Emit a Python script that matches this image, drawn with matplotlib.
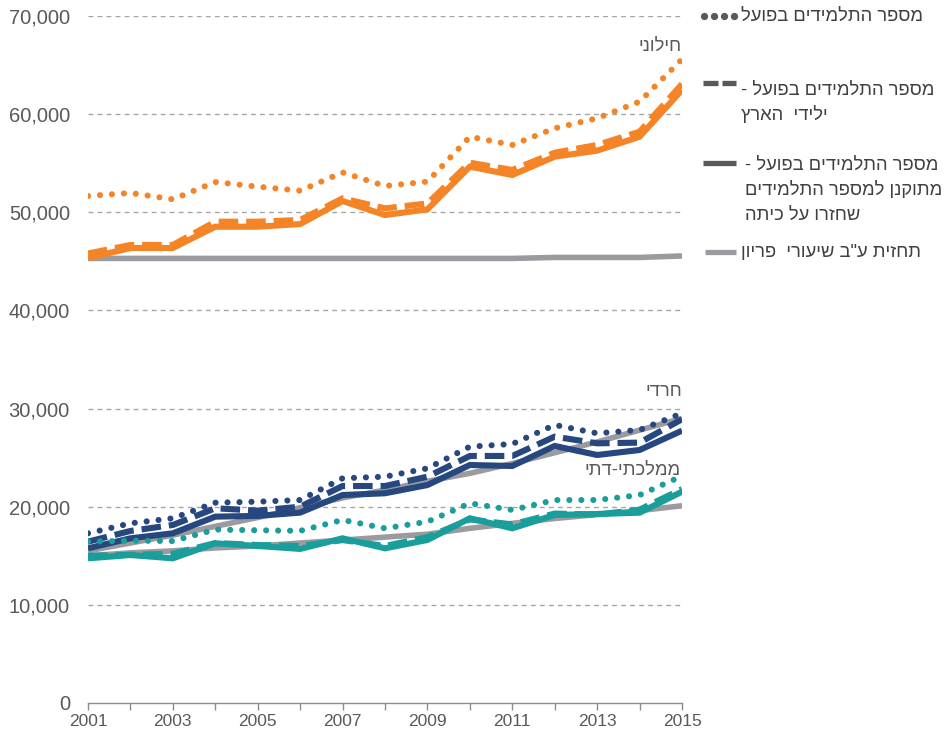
import matplotlib
matplotlib.use("Agg")
import matplotlib.pyplot as plt
from matplotlib.lines import Line2D

plt.rcParams['font.family'] = ['Liberation Sans', 'DejaVu Sans']

# ---------------- data ----------------
years = list(range(2001, 2016))
year_ticks = [2001, 2003, 2005, 2007, 2009, 2011, 2013, 2015]
y_ticks = [0, 10000, 20000, 30000, 40000, 50000, 60000, 70000]

# secular (חילוני)
sec_actual = [51660, 51970, 51320, 53080, 52610, 52200, 54060, 52680, 53120, 57700, 56860, 58560, 59580, 61270, 65590]
sec_native = [45800, 46670, 46670, 49040, 49040, 49215, 51420, 50400, 50900, 55050, 54310, 56070, 56860, 58210, 63070]
sec_corr = [45340, 46360, 46360, 48530, 48530, 48800, 51150, 49720, 50300, 54650, 53800, 55670, 56280, 57700, 62460]
sec_proj = [45300, 45300, 45300, 45300, 45300, 45300, 45300, 45300, 45300, 45300, 45300, 45400, 45400, 45400, 45550]

# haredi (חרדי)
har_actual = [17290, 18310, 18820, 20410, 20510, 20680, 22900, 23060, 23910, 26120, 26390, 28330, 27480, 27820, 29520]
har_native = [16440, 17530, 18140, 19840, 19600, 20000, 22110, 22110, 23060, 25170, 25170, 27140, 26460, 26530, 28910]
har_corr = [15760, 16780, 17290, 18990, 19060, 19400, 21190, 21370, 22210, 24250, 24150, 26190, 25270, 25780, 27750]
har_proj = [15500, 16300, 17100, 18000, 18900, 19900, 20900, 21700, 22600, 23400, 24400, 25500, 26600, 27800, 29000]

# state-religious (ממלכתי-דתי)
dat_actual = [16440, 16540, 16500, 17670, 17600, 17540, 18650, 17800, 18470, 20350, 19670, 20680, 20680, 21190, 23130]
dat_native = [15000, 15100, 15200, 16300, 16100, 16000, 16600, 16000, 16900, 18700, 18200, 19300, 19200, 19700, 21800]
dat_corr = [14740, 15080, 14740, 16270, 16000, 15700, 16780, 15760, 16610, 18820, 17800, 19160, 19260, 19390, 21530]
dat_proj = [15000, 15300, 15500, 15800, 16000, 16300, 16600, 16900, 17200, 17800, 18300, 18800, 19200, 19600, 20100]

group_labels = ['חילוני', 'חרדי', 'ממלכתי-דתי']
legend_labels = [
    ['מספר התלמידים בפועל'],
    ['מספר התלמידים בפועל -', 'ילידי  הארץ'],
    ['מספר התלמידים בפועל -', 'מתוקנן למספר התלמידים', 'שחזרו על כיתה'],
    ['תחזית ע"ב שיעורי  פריון'],
]


def rtl(s):
    return s[::-1]


# ---------------- style ----------------
ORANGE = '#F58426'
BLUE = '#27477F'
TEAL = '#1A9E9B'
GRAY = '#9B9B9F'
TXT = '#595959'
LEG_TXT = '#404040'
W, H = 948, 735

LW = 4.4
DOT = (0, (0.01, 1.95))
DASH = (0, (3.2, 1.3))

fig = plt.figure(figsize=(W / 100, H / 100), dpi=100)
ax = fig.add_axes([88 / W, 1 - 703 / H, (682 - 88) / W, (703 - 16) / H])


def fx(px):
    return px / W


def fy(py):
    return 1 - py / H


groups = [
    (sec_actual, sec_native, sec_corr, sec_proj, ORANGE),
    (har_actual, har_native, har_corr, har_proj, BLUE),
    (dat_actual, dat_native, dat_corr, dat_proj, TEAL),
]

for actual, native, corr, proj, col in groups:
    ax.plot(years, proj, color=GRAY, lw=4.0, solid_capstyle='butt', zorder=2)
for actual, native, corr, proj, col in groups:
    ax.plot(years, corr, color=col, lw=LW, solid_joinstyle='miter', solid_capstyle='butt', zorder=3)
    ax.plot(years, native, color=col, lw=LW, linestyle=DASH, dash_capstyle='butt', zorder=4)
    ax.plot(years, actual, color=col, lw=LW, linestyle=DOT, dash_capstyle='round', zorder=5)

ax.set_xlim(2001, 2015)
ax.set_ylim(0, 70000)
ax.set_yticks(y_ticks)
ax.set_yticklabels([f'{v:,}' for v in y_ticks])
ax.set_xticks(years)
ax.set_xticklabels([str(y) if y in year_ticks else '' for y in years])

for v in y_ticks[1:]:
    ax.axhline(v, color='#A6A6A6', lw=1.0, linestyle=(0, (3.5, 3)), zorder=1)

for s in ['top', 'right', 'left']:
    ax.spines[s].set_visible(False)
ax.spines['bottom'].set_color('#8C8C8C')
ax.spines['bottom'].set_linewidth(1.0)
ax.tick_params(axis='y', length=0, pad=13, labelsize=14.5, labelcolor=TXT)
ax.tick_params(axis='x', length=5, width=1.0, color='#8C8C8C', pad=3, labelsize=12.5, labelcolor=TXT)

# group labels
label_pos = [(682, 46), (682, 392), (681, 470)]
for lab, (px, py) in zip(group_labels, label_pos):
    fig.text(fx(px), fy(py), rtl(lab), ha='right', va='center', fontsize=13.2, color=TXT)

# ---------------- legend (manual) ----------------
LEG_C = '#595959'
# dotted
fig.add_artist(Line2D([fx(x) for x in (704, 714, 724, 734)], [fy(16)] * 4, transform=fig.transFigure,
                      linestyle='none', marker='o', markersize=4.2, color=LEG_C))
# dashed
fig.add_artist(Line2D([fx(703), fx(718)], [fy(83)] * 2, transform=fig.transFigure,
                      lw=3.8, color=LEG_C, solid_capstyle='butt'))
fig.add_artist(Line2D([fx(722), fx(736)], [fy(83)] * 2, transform=fig.transFigure,
                      lw=3.8, color=LEG_C, solid_capstyle='butt'))
# solid
fig.add_artist(Line2D([fx(703), fx(736)], [fy(163)] * 2, transform=fig.transFigure,
                      lw=3.8, color=LEG_C, solid_capstyle='butt'))
# projection
fig.add_artist(Line2D([fx(705), fx(736)], [fy(252)] * 2, transform=fig.transFigure,
                      lw=3.8, color=GRAY, solid_capstyle='butt'))

leg_lines_y = [[16], [90, 115], [165, 190, 215], [252]]
leg_x = [741, 741, 745, 741]
for lines, ys, lx in zip(legend_labels, leg_lines_y, leg_x):
    for line, py in zip(lines, ys):
        fig.text(fx(lx), fy(py), rtl(line), ha='left', va='center', fontsize=13.2, color=LEG_TXT)

fig.savefig('out.png', dpi=100)
